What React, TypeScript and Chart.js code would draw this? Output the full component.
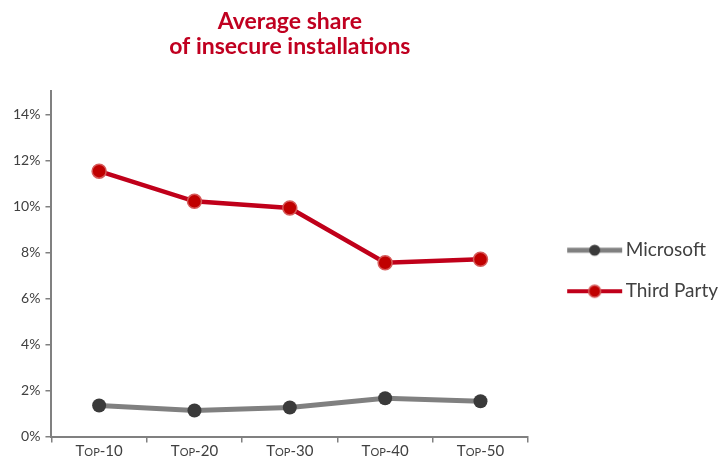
import React, { useEffect, useRef } from "react";
import { Chart, registerables } from "chart.js";

Chart.register(...registerables);

const categories = ["Top-10", "Top-20", "Top-30", "Top-40", "Top-50"];
const microsoftValues = [1.35, 1.13, 1.26, 1.66, 1.53];
const thirdPartyValues = [11.53, 10.22, 9.93, 7.55, 7.7];
const yTicks = [0, 2, 4, 6, 8, 10, 12, 14];
const titleLines = ["Average share", "of insecure installations"];
const seriesNames = ["Microsoft", "Third Party"];

const MS_LINE = "#808080";
const MS_POINT = "#3a3a3a";
const TP_LINE = "#c0001a";
const TP_POINT = "#c00000";
const TP_POINT_BORDER = "#d65a5a";
const TEXT = "#404040";
const AXIS = "#808080";

const ICON_W = 80;
const LINE_START = 24;
const LINE_END = 79;

function legendIcon(line: string, fill: string, border: string, lw: number, r: number) {
  const c = document.createElement("canvas");
  c.width = ICON_W;
  c.height = 16;
  const ctx = c.getContext("2d")!;
  ctx.strokeStyle = line;
  ctx.lineWidth = lw;
  ctx.beginPath();
  ctx.moveTo(LINE_START, 8);
  ctx.lineTo(LINE_END, 8);
  ctx.stroke();
  ctx.beginPath();
  ctx.arc((LINE_START + LINE_END) / 2, 8, r, 0, Math.PI * 2);
  ctx.fillStyle = fill;
  ctx.fill();
  if (border !== fill) {
    ctx.lineWidth = 1.5;
    ctx.strokeStyle = border;
    ctx.stroke();
  }
  return c;
}

export default function App() {
  const ref = useRef<HTMLCanvasElement>(null);
  useEffect(() => {
    const icons = [
      legendIcon(MS_LINE, MS_POINT, MS_POINT, 5, 5.5),
      legendIcon(TP_LINE, TP_POINT, TP_POINT_BORDER, 4, 6),
    ];
    const chart = new Chart(ref.current!, {
      type: "line",
      data: {
        labels: categories,
        datasets: [
          {
            label: seriesNames[0],
            data: microsoftValues,
            borderColor: MS_LINE,
            borderWidth: 5,
            pointRadius: 7,
            pointBackgroundColor: MS_POINT,
            pointBorderColor: MS_POINT,
            pointBorderWidth: 0,
            tension: 0,
          },
          {
            label: seriesNames[1],
            data: thirdPartyValues,
            borderColor: TP_LINE,
            borderWidth: 4.5,
            pointRadius: 7,
            pointBackgroundColor: TP_POINT,
            pointBorderColor: TP_POINT_BORDER,
            pointBorderWidth: 1.5,
            tension: 0,
          },
        ],
      },
      options: {
        responsive: false,
        animation: false,
        layout: { padding: { left: 8, right: -4, top: 0, bottom: 2 } },
        plugins: {
          title: {
            display: true,
            text: titleLines,
            color: "#c00020",
            fullSize: false,
            font: { family: "Lato", size: 23, weight: "bold", lineHeight: 1.05 },
            padding: { top: 10, bottom: 33 },
          },
          legend: {
            display: true,
            position: "right",
            align: "center",
            maxWidth: 260,
            title: { display: true, text: "", padding: { top: 0, bottom: 68 } },
            labels: {
              usePointStyle: true,
              pointStyleWidth: 66,
              boxHeight: 16,
              padding: 22,
              color: TEXT,
              font: { family: "Lato", size: 19 },
              generateLabels: (ch: any) =>
                ch.data.datasets.map((ds: any, i: number) => ({
                  text: ds.label,
                  pointStyle: icons[i],
                  fillStyle: "transparent",
                  strokeStyle: "transparent",
                  lineWidth: 0,
                  fontColor: TEXT,
                  datasetIndex: i,
                  hidden: false,
                })),
            },
          },
          tooltip: { enabled: false },
        },
        scales: {
          x: {
            offset: true,
            grid: {
              offset: true,
              drawOnChartArea: false,
              drawTicks: true,
              tickLength: 6,
              color: AXIS,
              lineWidth: 1.5,
            },
            border: { display: true, color: AXIS, width: 2 },
            ticks: {
              color: TEXT,
              padding: 0,
              maxRotation: 0,
              font: { family: "Lato", size: 15, weight: "small-caps" as any, lineHeight: 1.1 },
            },
          },
          y: {
            min: 0,
            max: 15,
            afterBuildTicks: (axis: any) => {
              axis.ticks = yTicks.map((v) => ({ value: v }));
            },
            grid: {
              drawOnChartArea: false,
              drawTicks: true,
              tickLength: 6,
              color: AXIS,
              lineWidth: 1.5,
            },
            border: { display: true, color: AXIS, width: 2 },
            ticks: {
              color: TEXT,
              padding: 5,
              font: { family: "Lato", size: 14 },
              callback: (v: any) => `${v}%`,
            },
          },
        },
      },
    });
    return () => chart.destroy();
  }, []);
  return (
    <div style={{ position: "fixed", left: 0, top: 0, width: 724, height: 461, background: "#fff" }}>
      <canvas ref={ref} width={724} height={461} />
    </div>
  );
}
